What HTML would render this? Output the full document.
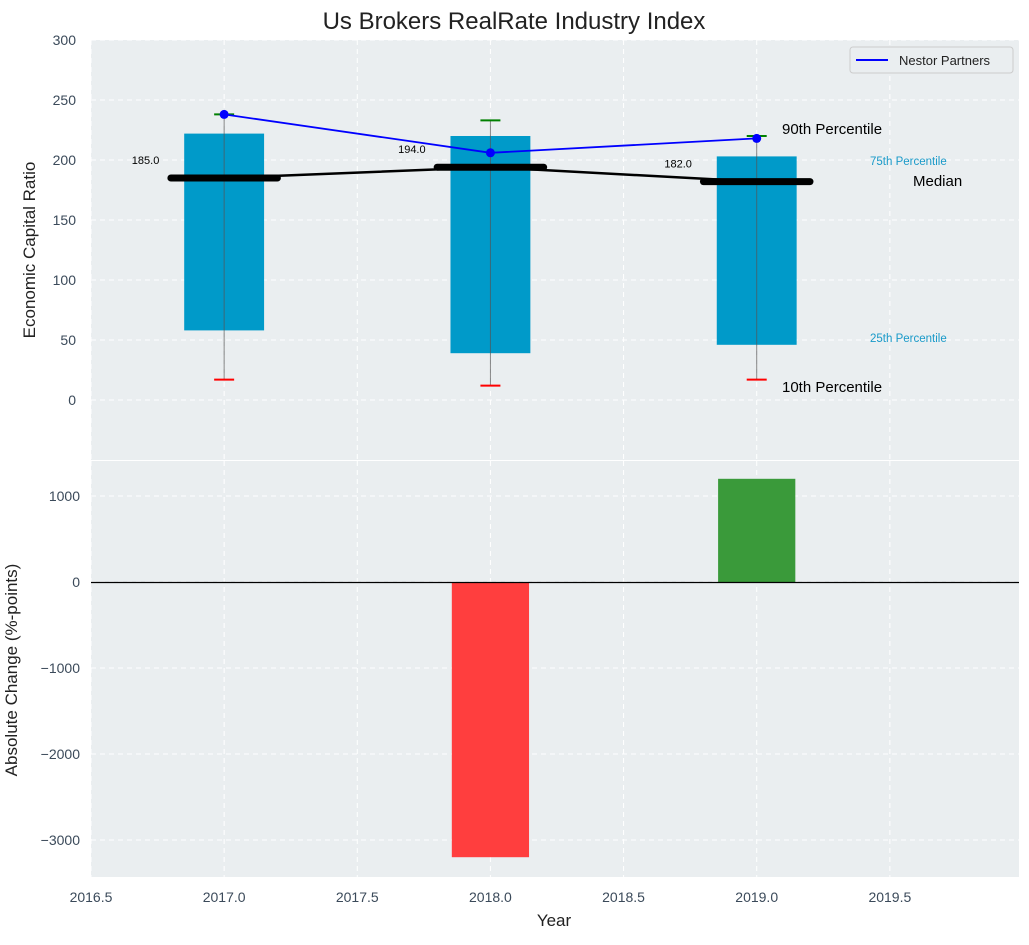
<!DOCTYPE html>
<html><head><meta charset="utf-8"><style>
body{margin:0;background:#fff;font-family:"Liberation Sans",sans-serif}
svg text{font-family:"Liberation Sans",sans-serif}
</style></head><body>
<svg id="c" width="1029" height="940" xmlns="http://www.w3.org/2000/svg"></svg>
<script>
const years=[2017,2018,2019];
const p10=[17,12,17];
const p25=[58,39,46];
const median=[185,194,182];
const p75=[222,220,203];
const p90=[238,233,220];
const nestor=[238,206,218];
const change=[0,-3200,1200];
const xTicks=[2016.5,2017,2017.5,2018,2018.5,2019,2019.5];
const yTopTicks=[0,50,100,150,200,250,300];
const yBotTicks=[-3000,-2000,-1000,0,1000];

const svg=document.getElementById('c');
const NS='http://www.w3.org/2000/svg';
function mk(t,a,p){const e=document.createElementNS(NS,t);for(const k in a)e.setAttribute(k,a[k]);(p||svg).appendChild(e);return e;}
const L=91,R=1019;
const X=v=>L+(v-2016.5)*(R-L)/(2019.985-2016.5);
const T0=40,T1=460,B0=461,B1=877;
const YT=v=>400-v*1.2;
const YB=v=>582-v*0.086;

let e=mk('rect',{x:L,y:T0,width:R-L,height:T1-T0,fill:'#eaeef0'});

e=mk('rect',{x:L,y:B0,width:R-L,height:B1-B0,fill:'#eaeef0'});


xTicks.forEach(v=>{
  [[T0,T1],[B0,B1]].forEach(r=>mk('line',{x1:X(v),x2:X(v),y1:r[0],y2:r[1],stroke:'#fff','stroke-dasharray':'5,4','stroke-width':1}));
  e=mk('text',{x:X(v),y:902,'text-anchor':'middle','font-size':14,fill:'#3b4a5a'});e.textContent=v.toFixed(1);
  
});
yTopTicks.forEach(v=>{
  mk('line',{x1:L,x2:R,y1:YT(v),y2:YT(v),stroke:'#fff','stroke-dasharray':'5,4'});
  e=mk('text',{x:76,y:YT(v)+5,'text-anchor':'end','font-size':14,fill:'#3b4a5a'});e.textContent=v;
  
});
yBotTicks.forEach(v=>{
  mk('line',{x1:L,x2:R,y1:YB(v),y2:YB(v),stroke:'#fff','stroke-dasharray':'5,4'});
  e=mk('text',{x:80,y:YB(v)+5,'text-anchor':'end','font-size':14,fill:'#3b4a5a'});e.textContent=(v<0?'\u2212'+(-v):v);
  
});

years.forEach((y,i)=>{
  e=mk('rect',{x:X(y-0.15),y:YT(p75[i]),width:X(y+0.15)-X(y-0.15),height:YT(p25[i])-YT(p75[i]),fill:'#009ac9'});
  
  mk('line',{x1:X(y),x2:X(y),y1:YT(p90[i]),y2:YT(p10[i]),stroke:'#555','stroke-width':1,opacity:0.7});
  e=mk('line',{x1:X(y)-10,x2:X(y)+10,y1:YT(p10[i]),y2:YT(p10[i]),stroke:'red','stroke-width':2});
  
  e=mk('line',{x1:X(y)-10,x2:X(y)+10,y1:YT(p90[i]),y2:YT(p90[i]),stroke:'green','stroke-width':2});
  
});
e=mk('polyline',{points:years.map((y,i)=>X(y)+','+YT(median[i])).join(' '),fill:'none',stroke:'#000','stroke-width':2.5});

years.forEach((y,i)=>{
  e=mk('line',{x1:X(y-0.2),x2:X(y+0.2),y1:YT(median[i]),y2:YT(median[i]),stroke:'#000','stroke-width':7,'stroke-linecap':'round'});
  
  e=mk('text',{x:X(y-0.25)-12,y:YT(median[i])-14,'text-anchor':'middle','font-size':11,fill:'#000'});e.textContent=median[i].toFixed(1);
  
});
e=mk('polyline',{points:years.map((y,i)=>X(y)+','+YT(nestor[i])).join(' '),fill:'none',stroke:'blue','stroke-width':1.8});

years.forEach((y,i)=>{e=mk('circle',{cx:X(y),cy:YT(nestor[i]),r:4.5,fill:'blue'});
  });

const ann=[[782,134,'90th Percentile',15,'#000'],[870,165,'75th Percentile',11.5,'#1a9ac9'],[913,186,'Median',15,'#000'],[870,342,'25th Percentile',11.5,'#1a9ac9'],[782,392,'10th Percentile',15,'#000']];
ann.forEach(a=>{e=mk('text',{x:a[0],y:a[1],'font-size':a[3],fill:a[4]});e.textContent=a[2];
  });

const lg=mk('g',{});
mk('rect',{x:850,y:47,width:163,height:26,rx:3,fill:'#eaeef0',stroke:'#ccc'},lg);
mk('line',{x1:856,x2:888,y1:60,y2:60,stroke:'blue','stroke-width':2},lg);
e=mk('text',{x:899,y:65,'font-size':13,fill:'#222'},lg);e.textContent='Nestor Partners';

years.forEach((y,i)=>{
  const v=change[i];if(v===0)return;
  e=mk('rect',{x:X(y-0.145),y:Math.min(YB(0),YB(v)),width:X(y+0.145)-X(y-0.145),height:Math.abs(YB(v)-YB(0)),fill:v<0?'#ff3e3e':'#3a9a3a'});
  
});
mk('line',{x1:L,x2:R,y1:YB(0)+0.5,y2:YB(0)+0.5,stroke:'#000','stroke-width':1.2});

e=mk('text',{x:514,y:29,'text-anchor':'middle','font-size':24,fill:'#222'});e.textContent='Us Brokers RealRate Industry Index';

e=mk('text',{x:554,y:926,'text-anchor':'middle','font-size':17,fill:'#222'});e.textContent='Year';

e=mk('text',{x:0,y:0,'text-anchor':'middle','font-size':17,fill:'#222',transform:'translate(35,250) rotate(-90)'});e.textContent='Economic Capital Ratio';

e=mk('text',{x:0,y:0,'text-anchor':'middle','font-size':17,fill:'#222',transform:'translate(17,670) rotate(-90)'});e.textContent='Absolute Change (%-points)';

</script>
</body></html>
